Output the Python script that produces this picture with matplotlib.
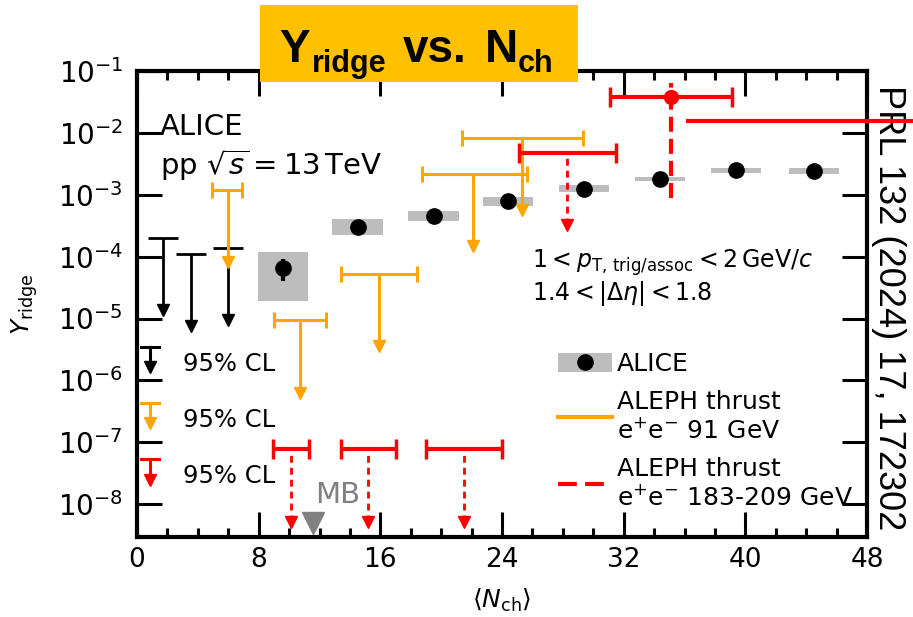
import numpy as np
import matplotlib
matplotlib.use('Agg')
from matplotlib import pyplot as plt
from matplotlib.patches import Rectangle, Patch
from matplotlib.lines import Line2D
from matplotlib.ticker import MultipleLocator, NullLocator

# ALICE pp 13 TeV points (stat. error + sys. box)
alice_x = [9.6, 14.5, 19.5, 24.4, 29.4, 34.4, 39.4, 44.5]
alice_y = [6.6e-5, 3.05e-4, 4.6e-4, 7.8e-4, 1.26e-3, 1.79e-3, 2.5e-3, 2.45e-3]
alice_stat = [2.5e-5, 1e-5, 1e-5, 2e-5, 3e-5, 4e-5, 5e-5, 5e-5]
alice_sys_lo = [1.9e-5, 2.25e-4, 3.7e-4, 6.5e-4, 1.09e-3, 1.64e-3, 2.24e-3, 2.2e-3]
alice_sys_hi = [1.2e-4, 4.0e-4, 5.4e-4, 9.1e-4, 1.45e-3, 1.95e-3, 2.75e-3, 2.7e-3]

# ALICE 95% CL upper limits
black_x = [1.7, 3.55, 6.0]
black_ul = [2.0e-4, 1.1e-4, 1.4e-4]

# ALEPH thrust e+e- 91 GeV upper limits
orange_x = [6.0, 10.7, 15.9, 22.1, 25.3]
orange_xlo = [4.9, 9.0, 13.4, 18.75, 21.4]
orange_xhi = [6.9, 12.4, 18.4, 25.65, 29.3]
orange_ul = [1.2e-3, 9.3e-6, 5.3e-5, 2.2e-3, 8.3e-3]

# ALEPH thrust e+e- 183-209 GeV upper limits
red_x = [10.1, 15.2, 21.5, 28.3]
red_xlo = [8.95, 13.4, 19.0, 25.1]
red_xhi = [11.3, 17.0, 24.0, 31.5]
red_ul = [7.7e-8, 7.7e-8, 7.7e-8, 4.8e-3]

# ALEPH 183-209 GeV measured point
red_pt_x = 35.1
red_pt_xlo, red_pt_xhi = 31.1, 39.1
red_pt_y = 0.0385
red_pt_ylo, red_pt_yhi = 9e-4, 0.064

# red marker line running off the right side
red_line_x = [36.2, 52.0]
red_line_y = 0.0156

mb_x = 11.6

xticks = [0, 8, 16, 24, 32, 40, 48]
yticks = [1e-8, 1e-7, 1e-6, 1e-5, 1e-4, 1e-3, 1e-2, 1e-1]

ORANGE = '#FFA500'
RED = '#FF0000'
GRAY = '#BDBDBD'
ARROW = 10 ** -1.17   # arrow length below a limit, in log units

fig = plt.figure(figsize=(9.13, 6.17), dpi=100)
ax = fig.add_axes([137 / 913, 1 - 537 / 617, 730 / 913, 466 / 617])
ax.set_yscale('log')


def draw_limits(x, ul, color, lw, ls, ms):
    x = np.asarray(x)
    ul = np.asarray(ul)
    tip = ul * ARROW
    ax.vlines(x, tip, ul, colors=color, lw=lw, linestyles=ls, zorder=3)
    ax.plot(x, tip, 'v', color=color, ms=ms, ls='none', zorder=3)


# ALICE sys boxes and points
lo = np.asarray(alice_sys_lo)
hi = np.asarray(alice_sys_hi)
ax.bar(alice_x, hi - lo, bottom=lo, width=3.3, color=GRAY, zorder=1)
ax.errorbar(alice_x, alice_y, yerr=alice_stat, fmt='o', color='k', ms=11,
            elinewidth=3, capsize=0, zorder=4)

# black limits
bx = np.asarray(black_x)
ax.hlines(black_ul, bx - 1.0, bx + 1.0, colors='k', lw=2, zorder=3)
draw_limits(black_x, black_ul, 'k', 2, 'solid', 9)

# orange limits
ox = np.asarray(orange_x)
ax.errorbar(ox, orange_ul, xerr=[ox - np.asarray(orange_xlo), np.asarray(orange_xhi) - ox],
            fmt='none', ecolor=ORANGE, elinewidth=2.2, capsize=6, capthick=2.2, zorder=3)
draw_limits(orange_x, orange_ul, ORANGE, 2.2, 'solid', 9)

# red limits
rx = np.asarray(red_x)
ax.errorbar(rx, red_ul, xerr=[rx - np.asarray(red_xlo), np.asarray(red_xhi) - rx],
            fmt='none', ecolor=RED, elinewidth=3, capsize=7, capthick=2.5, zorder=3)
draw_limits(red_x, red_ul, RED, 2, (0, (2.5, 1.8)), 8)

# red measured point
ax.vlines(red_pt_x, red_pt_ylo, red_pt_yhi, colors=RED, lw=3,
          linestyles=(0, (3.6, 1.7)), zorder=3)
ax.errorbar(red_pt_x, red_pt_y, xerr=[[red_pt_x - red_pt_xlo], [red_pt_xhi - red_pt_x]],
            fmt='o', color=RED, ms=10, elinewidth=3, capsize=7, capthick=2.5, zorder=4)
ax.plot(red_line_x, [red_line_y, red_line_y], color=RED, lw=3, clip_on=False, zorder=5)

# MB marker
xt = ax.get_xaxis_transform()
ax.plot(mb_x, 0.03, 'v', color='#808080', ms=16, transform=xt, clip_on=False, zorder=4)
ax.text(13.2, 0.073, 'MB', transform=xt, ha='center', va='baseline',
        fontsize=21, color='#808080')

# small 95% CL keys on the left
for yc, yt, col in [(0.408, 0.354, 'k'),
                    (0.288, 0.234, ORANGE),
                    (0.167, 0.112, RED)]:
    ax.plot([0.006, 0.030], [yc, yc], color=col, lw=2.2, transform=ax.transAxes)
    ax.plot([0.018, 0.018], [yc, yt + 0.01], color=col, lw=2.2, transform=ax.transAxes)
    ax.plot(0.018, yt + 0.01, 'v', color=col, ms=9, transform=ax.transAxes)
    ax.text(0.063, (yc + yt) / 2 - 0.009, '95% CL', transform=ax.transAxes,
            fontsize=17.5, va='center', ha='left')

# texts
ax.text(0.0315, 0.863, 'ALICE', transform=ax.transAxes, fontsize=21, va='baseline')
ax.text(0.0315, 0.777, r'pp $\sqrt{s}=13\,\mathrm{TeV}$', transform=ax.transAxes,
        fontsize=21, va='baseline')
ax.text(0.541, 0.577, r'$1 < p_{\mathrm{T,\,trig/assoc}} < 2\,\mathrm{GeV}/c$',
        transform=ax.transAxes, fontsize=17, va='baseline')
ax.text(0.541, 0.509, r'$1.4 < |\Delta\eta| < 1.8$',
        transform=ax.transAxes, fontsize=17, va='baseline')

# legend
handles = [(Patch(facecolor=GRAY), Line2D([], [], marker='o', color='k', ls='none', ms=11)),
           Line2D([], [], color=ORANGE, lw=3),
           Line2D([], [], color=RED, lw=3, ls=(0, (4.5, 2)))]
labels = ['ALICE', 'ALEPH thrust\ne$^{+}$e$^{-}$ 91 GeV',
          'ALEPH thrust\ne$^{+}$e$^{-}$ 183-209 GeV']
ax.legend(handles, labels, loc='upper left', bbox_to_anchor=(0.577, 0.396),
          frameon=False, fontsize=18, handlelength=2.16, handleheight=0.8,
          handletextpad=0.2, labelspacing=0.55, borderpad=0, borderaxespad=0)

# axes
ax.set_xlim(0, 48)
ax.set_ylim(2.95e-9, 0.1)
ax.set_xticks(xticks)
ax.xaxis.set_minor_locator(MultipleLocator(2))
ax.set_yticks(yticks)
ax.yaxis.set_minor_locator(NullLocator())
ax.tick_params(which='both', direction='in', top=True, right=True, labelsize=19, width=2.2)
ax.tick_params(which='major', length=18, pad=7)
ax.tick_params(which='minor', length=6.5)
ax.tick_params(axis='y', which='major', labelsize=20, pad=10)
for s in ax.spines.values():
    s.set_linewidth(3)
ax.set_xlabel(r'$\langle N_{\mathrm{ch}} \rangle$', fontsize=18)
ax.set_ylabel(r'$Y_{\mathrm{ridge}}$', fontsize=18)
ax.xaxis.set_label_coords(0.5, -0.107)
ax.yaxis.set_label_coords(-0.133, 0.5)

# title box
fig.add_artist(Rectangle((260 / 913, 1 - 82 / 617), 318 / 913, 77 / 617,
                         transform=fig.transFigure, facecolor='#FFC000',
                         edgecolor='none', zorder=5))
tfont = dict(family='Liberation Sans', fontweight='bold', va='baseline', ha='left', zorder=6)
fig.text(279 / 913, 1 - 62 / 617, 'Y', fontsize=33, **tfont)
fig.text(312 / 913, 1 - 72 / 617, 'ridge', fontsize=22, **tfont)
fig.text(403 / 913, 1 - 62 / 617, 'vs.', fontsize=33, **tfont)
fig.text(485 / 913, 1 - 62 / 617, 'N', fontsize=33, **tfont)
fig.text(518 / 913, 1 - 72 / 617, 'ch', fontsize=22, **tfont)

fig.text(888 / 913, 1 - 85 / 617, 'PRL 132 (2024) 17, 172302', rotation=-90,
         ha='center', va='top', fontsize=26, family='Liberation Sans', zorder=-1)

fig.savefig('out.png', dpi=100)
